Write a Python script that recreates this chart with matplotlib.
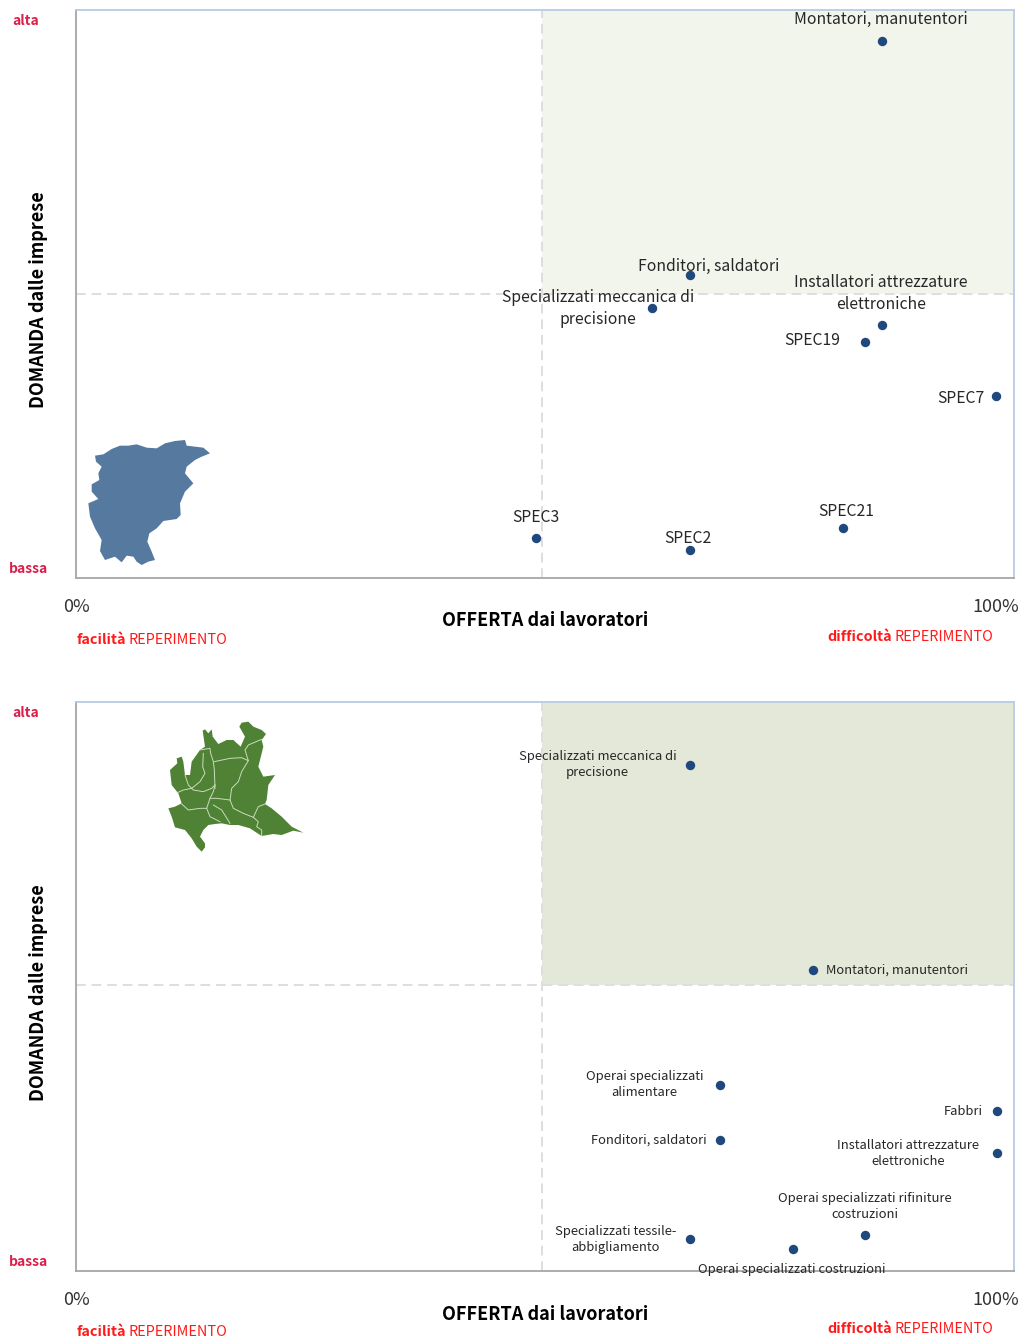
import matplotlib
matplotlib.use('Agg')
import matplotlib.pyplot as plt
from matplotlib.patches import Polygon

plt.rcParams['font.family'] = ['Noto Sans CJK SC', 'DejaVu Sans']

W = 1022
H = 1338

# top chart
names1 = ['Montatori, manutentori', 'Fonditori, saldatori', 'Specializzati meccanica di\nprecisione',
          'Installatori attrezzature\nelettroniche', 'SPEC19', 'SPEC7', 'SPEC3', 'SPEC2', 'SPEC21']
x1 = [85.9, 65.5, 61.4, 85.9, 84.1, 98.1, 49.0, 65.5, 81.8]
y1 = [94.5, 53.3, 47.5, 44.5, 41.5, 32.0, 7.0, 4.9, 8.8]
offs1 = [(-1, 22), (18, 9), (-54, 0), (-1, 32), (-53, 2), (-35, -2), (0, 21), (-2, 12), (3, 17)]

# bottom chart
names2 = ['Specializzati meccanica di\nprecisione', 'Montatori, manutentori', 'Operai specializzati\nalimentare',
          'Fonditori, saldatori', 'Fabbri', 'Installatori attrezzature\nelettroniche',
          'Operai specializzati rifiniture\ncostruzioni', 'Specializzati tessile-\nabbigliamento',
          'Operai specializzati costruzioni']
x2 = [65.5, 78.6, 68.7, 68.7, 98.2, 98.2, 84.1, 65.5, 76.4]
y2 = [89.0, 52.9, 32.7, 23.0, 28.1, 20.7, 6.3, 5.6, 3.9]
offs2 = [(-93, 0), (84, 0), (-76, 0), (-72, 0), (-34, 0), (-89, 0), (0, 29), (-75, 0), (-1, -21)]

# map outlines
bergamo = [(75, 92), (100, 88), (125, 72), (150, 62), (175, 62), (200, 58), (230, 68), (260, 70), (285, 55),
           (315, 48), (345, 45), (350, 62), (375, 65), (400, 68), (420, 85), (395, 95), (375, 105), (350, 125),
           (345, 145), (370, 175), (345, 200), (330, 235), (332, 270), (320, 282), (280, 288), (260, 310),
           (238, 325), (232, 350), (245, 380), (255, 405), (235, 410), (215, 420), (200, 410), (190, 395),
           (170, 392), (155, 412), (135, 395), (105, 405), (90, 378), (95, 345), (75, 310), (60, 275), (55, 235),
           (85, 222), (65, 200), (65, 178), (88, 165), (85, 145), (95, 125), (78, 110)]
lombardia = [(158, 62), (165, 58), (175, 70), (185, 58), (188, 80), (205, 102), (230, 90), (250, 90), (272, 110),
             (285, 80), (268, 50), (275, 38), (295, 35), (310, 50), (335, 60), (348, 72), (335, 90), (340, 110),
             (330, 150), (325, 170), (340, 200), (375, 195), (355, 225), (350, 270), (345, 282), (365, 295),
             (395, 320), (425, 350), (460, 368), (430, 362), (395, 375), (370, 372), (335, 378), (300, 355),
             (265, 345), (240, 345), (215, 340), (195, 342), (175, 345), (160, 360), (150, 380), (165, 400),
             (165, 412), (155, 425), (140, 410), (125, 385), (105, 360), (75, 352),
             (65, 320), (55, 295), (75, 290), (95, 280), (85, 250), (65, 225), (60, 180), (82, 160), (80, 145),
             (95, 140), (100, 155), (105, 195), (120, 195), (125, 155), (150, 120), (165, 110)]
province = [[(150, 120), (180, 115), (182, 130), (190, 155), (193, 180), (195, 235)],
            [(160, 130), (158, 170), (165, 190), (150, 215), (125, 235), (100, 240), (82, 248)],
            [(105, 195), (115, 225), (130, 240), (160, 245), (185, 235), (195, 225)],
            [(193, 155), (240, 145), (275, 143), (295, 152), (285, 120), (295, 105), (335, 88)],
            [(295, 152), (275, 185), (265, 215), (245, 235), (240, 270), (200, 265), (180, 265)],
            [(195, 225), (190, 245), (180, 265), (170, 295), (150, 295), (115, 300), (95, 282)],
            [(240, 270), (250, 295), (280, 310), (310, 322), (325, 290), (345, 282)],
            [(170, 295), (180, 320), (210, 335)],
            [(190, 285), (215, 300), (240, 340)],
            [(310, 322), (325, 335), (320, 350), (335, 360), (335, 378)]]

RED = '#ff1a1a'
CRIMSON = '#dc1e4a'


def draw_chart(top, bottom, xs, ys, names, offs, shade, fsize, ymid, lsp):
    ax = fig.add_axes([76 / W, 1 - bottom / H, 938 / W, (bottom - top) / H])
    ax.set_xlim(0, 100)
    ax.set_ylim(0, 100)
    ax.set_xticks([])
    ax.set_yticks([])
    ax.axvspan(49.7, 100, ymin=ymid / 100, ymax=1, color=shade, lw=0, zorder=1)
    ax.axvline(49.7, color='#dedede', lw=1.4, ls=(0, (5, 3)), zorder=2)
    ax.axhline(ymid, color='#dedede', lw=1.4, ls=(0, (5, 3)), zorder=2)
    ax.scatter(xs, ys, s=46, color='#1f497d', lw=0, zorder=3)
    for i in range(len(names)):
        ax.annotate(names[i], (xs[i], ys[i]), xytext=offs[i], textcoords='offset pixels', ha='center',
                    va='center', fontsize=fsize, color='#262626', linespacing=lsp, zorder=4)
    ax.spines['left'].set_color('#a6a6a6')
    ax.spines['bottom'].set_color('#a6a6a6')
    ax.spines['top'].set_color('#b8cce4')
    ax.spines['right'].set_color('#b8cce4')
    for s in ax.spines.values():
        s.set_linewidth(1.3)
    return ax


def page_text(top, bottom, lab_left, lab_right):
    page.text(26, top + 11, 'alta', color=CRIMSON, fontsize=10, fontweight='bold', ha='center', va='center')
    page.text(28, bottom - 9, 'bassa', color=CRIMSON, fontsize=10, fontweight='bold', ha='center', va='center')
    page.text(76, bottom + 29, '0%', color='#333333', fontsize=13, ha='center', va='center')
    page.text(996, bottom + 29, '100%', color='#333333', fontsize=13, ha='center', va='center')
    page.text(545, bottom + 43, 'OFFERTA dai lavoratori', color='black', fontsize=13, fontweight='bold',
              ha='center', va='center')
    page.text(37, (top + bottom) / 2 + 6, 'DOMANDA dalle imprese', color='black', fontsize=13, fontweight='bold',
              rotation=90, ha='center', va='center', transform=page.transData + offset)
    page.text(77, lab_left + 1, 'facilità', color=RED, fontsize=10.35, fontweight='bold', va='center')
    page.text(129, lab_left + 1, 'REPERIMENTO', color=RED, fontsize=10.35, va='center')
    page.text(827, lab_right + 1, 'difficoltà', color=RED, fontsize=10.35, fontweight='bold', va='center')
    page.text(895, lab_right + 1, 'REPERIMENTO', color=RED, fontsize=10.35, va='center')


fig = plt.figure(figsize=(W / 100, H / 100), dpi=100)

draw_chart(10, 578, x1, y1, names1, offs1, '#f2f5ec', 11.3, 50.0, 1.37)
draw_chart(702, 1271, x2, y2, names2, offs2, '#e4e8d8', 9.35, 50.3, 1.3)

# overlay in pixel units for maps and outer captions
page = fig.add_axes([0, 0, 1, 1], facecolor='none')
page.set_xlim(0, W)
page.set_ylim(H, 0)
page.axis('off')
offset = matplotlib.transforms.Affine2D().translate(2, 0)

page_text(10, 578, 639, 636)
page_text(702, 1271, 1331, 1328)

pts = [(70 + a / 3, 425 + b / 3) for a, b in bergamo]
page.add_patch(Polygon(pts, closed=True, fc='#56799f', ec='none'))
pts = [(150 + a / 3, 710 + b / 3) for a, b in lombardia]
page.add_patch(Polygon(pts, closed=True, fc='#4f8235', ec='none'))
for line in province:
    page.plot([150 + a / 3 for a, b in line], [710 + b / 3 for a, b in line], color='#c9dcbc', lw=0.7)

fig.savefig('out.png', dpi=100)
